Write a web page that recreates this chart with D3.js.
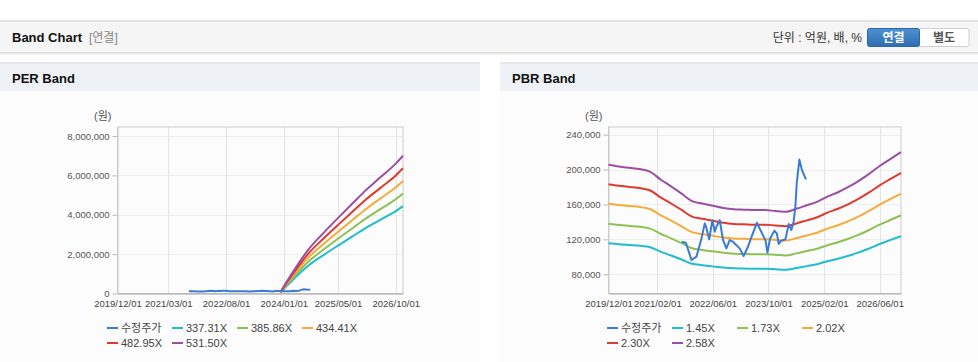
<!DOCTYPE html>
<html>
<head>
<meta charset="utf-8">
<script src="https://d3js.org/d3.v7.min.js"></script>
<style>
  body { margin: 0; background: #fff; }
  svg { display: block; font-family: "Liberation Sans", "Noto Sans CJK KR", sans-serif; }
</style>
</head>
<body>
<svg id="page" width="978" height="362"></svg>
<script>
// ---- data ----
var priceDates = ["2021-09-01","2021-10-08","2021-11-27","2022-01-09","2022-02-22","2022-03-23","2022-04-07","2022-04-30",
  "2022-05-29","2022-06-18","2022-07-03","2022-08-01","2022-08-15","2022-08-30","2022-09-28","2022-10-27","2022-11-25",
  "2023-01-22","2023-02-26","2023-04-05","2023-05-18","2023-06-22","2023-07-30","2023-09-06","2023-09-23","2023-10-16",
  "2023-11-23","2023-12-14","2023-12-31","2024-01-20","2024-02-27","2024-03-27","2024-04-19","2024-05-09","2024-05-24",
  "2024-06-05","2024-06-28","2024-07-21","2024-08-25"];
var priceValues = [117300,116200,96400,100200,121100,138300,132600,120000,
  142000,128800,134500,142000,130700,119200,109700,119200,117300,
  109700,101000,111600,126900,139000,128800,118500,104800,121100,
  129900,126900,114700,118500,120000,137500,130700,140200,157300,
  184000,211400,199200,188600];

var perMultiples = [337.31, 385.86, 434.41, 482.95, 531.50];
var perLabels = ["337.31X", "385.86X", "434.41X", "482.95X", "531.50X"];
var epsDates = ["2023-12-02","2024-03-16","2024-08-12","2024-12-25","2025-05-09","2025-09-07","2026-01-04","2026-05-19","2026-10-01","2026-12-05"];
var epsValues = [150, 1950, 4250, 5820, 7300, 8598, 9859, 11138, 12418, 13170];

var pbrMultiples = [1.45, 1.73, 2.02, 2.30, 2.58];
var pbrLabels = ["1.45X", "1.73X", "2.02X", "2.30X", "2.58X"];
var bpsDates = ["2019-12-01","2020-03-01","2020-06-01","2020-09-01","2020-12-01","2021-03-01","2021-06-01","2021-09-01",
  "2021-12-01","2022-03-01","2022-06-01","2022-09-01","2022-12-01","2023-03-01","2023-06-01","2023-09-01","2023-12-01",
  "2024-03-01","2024-06-01","2024-09-01","2024-12-01","2025-03-01","2025-06-01","2025-09-01","2025-12-01","2026-03-01",
  "2026-06-01","2026-09-01","2026-12-05"];
var bpsValues = [79650,78880,78290,77710,76500,73100,70040,66820,
  63500,62400,61430,60470,59880,59690,59500,59500,59110,
  58720,60080,61630,63180,65500,67440,69770,72480,75580,
  79070,82170,85270];

var perXTicks = ["2019-12-01","2021-03-01","2022-08-01","2024-01-01","2025-05-01","2026-10-01"];
var pbrXTicks = ["2019-12-01","2021-02-01","2022-06-01","2023-10-01","2025-02-01","2026-06-01"];
var perYTicks = [0, 2000000, 4000000, 6000000, 8000000];
var pbrYTicks = [80000, 120000, 160000, 200000, 240000];

var priceName = "수정주가";
var priceColor = "#3a7bd5";
var bandColors = ["#22bccd", "#8dc153", "#f6aa37", "#e0392e", "#9a4fa2"];

var parse = d3.timeParse("%Y-%m-%d");
var svg = d3.select("#page");

// ---- page header ----
svg.append("rect").attr("x", 0).attr("y", 20).attr("width", 978).attr("height", 2).attr("fill", "#e2e2e2");
svg.append("rect").attr("x", 0).attr("y", 22).attr("width", 978).attr("height", 30).attr("fill", "#f5f5f5");
[["#dcdcdc", 52], ["#e9e9e9", 53], ["#f4f4f4", 54]].forEach(function (s) {
  svg.append("rect").attr("x", 0).attr("y", s[1]).attr("width", 978).attr("height", 1).attr("fill", s[0]);
});
svg.append("text").attr("x", 12).attr("y", 42).attr("font-size", 13).attr("font-weight", "bold")
  .attr("fill", "#111").text("Band Chart");
svg.append("text").attr("x", 89).attr("y", 42).attr("font-size", 12).attr("fill", "#888").text("[연결]");
svg.append("text").attr("x", 862).attr("y", 42).attr("font-size", 12).attr("text-anchor", "end")
  .attr("fill", "#333").text("단위 : 억원, 배, %");

var grad = svg.append("defs").append("linearGradient").attr("id", "btn").attr("x1", 0).attr("y1", 0).attr("x2", 0).attr("y2", 1);
grad.append("stop").attr("offset", "0%").attr("stop-color", "#4d91d2");
grad.append("stop").attr("offset", "100%").attr("stop-color", "#2f6db0");
svg.append("rect").attr("x", 919).attr("y", 28.5).attr("width", 50).attr("height", 18).attr("rx", 2)
  .attr("fill", "#fff").attr("stroke", "#cfcfcf");
svg.append("rect").attr("x", 867.5).attr("y", 28.5).attr("width", 52).attr("height", 18).attr("rx", 2)
  .attr("fill", "url(#btn)").attr("stroke", "#2c67a6");
svg.append("text").attr("x", 893.5).attr("y", 42).attr("text-anchor", "middle").attr("font-size", 12)
  .attr("font-weight", "bold").attr("fill", "#fff").text("연결");
svg.append("text").attr("x", 944).attr("y", 42).attr("text-anchor", "middle").attr("font-size", 12)
  .attr("font-weight", "bold").attr("fill", "#555").text("별도");

// ---- one panel ----
function drawPanel(o) {
  var g = svg.append("g").attr("transform", "translate(" + o.x0 + ",0)");
  g.append("rect").attr("x", 0).attr("y", 62).attr("width", o.w).attr("height", 2).attr("fill", "#e3e6ea");
  g.append("rect").attr("x", 0).attr("y", 64).attr("width", o.w).attr("height", 27).attr("fill", "#eef2f7");
  g.append("rect").attr("x", 0).attr("y", 91).attr("width", o.w).attr("height", 271).attr("fill", "#fcfcfc");
  g.append("text").attr("x", 12).attr("y", 83).attr("font-size", 13).attr("font-weight", "bold")
    .attr("fill", "#111").text(o.title);

  var x = d3.scaleTime().domain([parse("2019-12-01"), parse("2026-12-05")]).range([o.left, o.right]);
  var y = d3.scaleLinear().domain(o.yDomain).range([293.5, 127]);

  // grid
  g.append("g").selectAll("line").data(o.yTicks).join("line")
    .attr("x1", o.left).attr("x2", o.right).attr("y1", function (d) { return Math.round(y(d)) + 0.5; })
    .attr("y2", function (d) { return Math.round(y(d)) + 0.5; }).attr("stroke", "#eeeeee");
  g.append("g").selectAll("line").data(o.xTicks).join("line")
    .attr("y1", 127).attr("y2", 293.5).attr("x1", function (d) { return Math.round(x(parse(d))) + 0.5; })
    .attr("x2", function (d) { return Math.round(x(parse(d))) + 0.5; }).attr("stroke", "#e4e4e4");
  g.append("rect").attr("x", o.left).attr("y", 127).attr("width", o.right - o.left).attr("height", 166.5)
    .attr("fill", "none").attr("stroke", "#cccccc");

  // axes
  var yAxis = d3.axisLeft(y).tickValues(o.yTicks).tickSize(5).tickPadding(3).tickFormat(d3.format(","));
  var ya = g.append("g").attr("transform", "translate(" + o.left + ",0)").call(yAxis);
  ya.select(".domain").remove();
  ya.selectAll("line").attr("stroke", "#bbbbbb");
  ya.selectAll("text").attr("font-size", 9.5).attr("fill", "#555").attr("font-family", null);

  var xAxis = d3.axisBottom(x).tickValues(o.xTicks.map(parse)).tickSize(0).tickPadding(7)
    .tickFormat(d3.timeFormat("%Y/%m/%d"));
  var xa = g.append("g").attr("transform", "translate(0,293.5)").call(xAxis);
  xa.select(".domain").attr("stroke", "#aaaaaa");
  xa.selectAll("text").attr("font-size", 9.5).attr("fill", "#444").attr("font-family", null);

  g.append("text").attr("x", o.left - 6).attr("y", 120).attr("text-anchor", "end")
    .attr("font-size", 11).attr("fill", "#555").text("(원)");

  // bands
  var base = o.baseDates.map(function (d, i) { return { date: parse(d), v: o.baseValues[i] }; });
  o.multiples.forEach(function (m, k) {
    var line = d3.line().x(function (d) { return x(d.date); }).y(function (d) { return y(d.v * m); })
      .curve(d3.curveMonotoneX);
    g.append("path").datum(base).attr("d", line).attr("fill", "none")
      .attr("stroke", bandColors[k]).attr("stroke-width", 2);
  });

  // price
  var price = priceDates.map(function (d, i) { return { date: parse(d), v: priceValues[i] }; });
  g.append("path").datum(price)
    .attr("d", d3.line().x(function (d) { return x(d.date); }).y(function (d) { return y(d.v); }))
    .attr("fill", "none").attr("stroke", priceColor).attr("stroke-width", 2).attr("stroke-linejoin", "round");

  // legend
  var items = [{ name: priceName, color: priceColor }].concat(o.labels.map(function (l, k) {
    return { name: l, color: bandColors[k] };
  }));
  var lg = g.append("g").selectAll("g").data(items).join("g")
    .attr("transform", function (d, i) {
      return "translate(" + (107 + (i % 4) * 65) + "," + (328 + Math.floor(i / 4) * 15) + ")";
    });
  lg.append("rect").attr("x", 0).attr("y", -1).attr("width", 11).attr("height", 2)
    .attr("fill", function (d) { return d.color; });
  lg.append("text").attr("x", 14).attr("y", 4).attr("font-size", 11).attr("fill", "#444")
    .text(function (d) { return d.name; });
}

drawPanel({ x0: 0, w: 480, title: "PER Band", left: 117.5, right: 403, yDomain: [0, 8460000],
  yTicks: perYTicks, xTicks: perXTicks, baseDates: epsDates, baseValues: epsValues,
  multiples: perMultiples, labels: perLabels });
drawPanel({ x0: 500, w: 478, title: "PBR Band", left: 108.5, right: 401, yDomain: [58000, 248700],
  yTicks: pbrYTicks, xTicks: pbrXTicks, baseDates: bpsDates, baseValues: bpsValues,
  multiples: pbrMultiples, labels: pbrLabels });
</script>
</body>
</html>
